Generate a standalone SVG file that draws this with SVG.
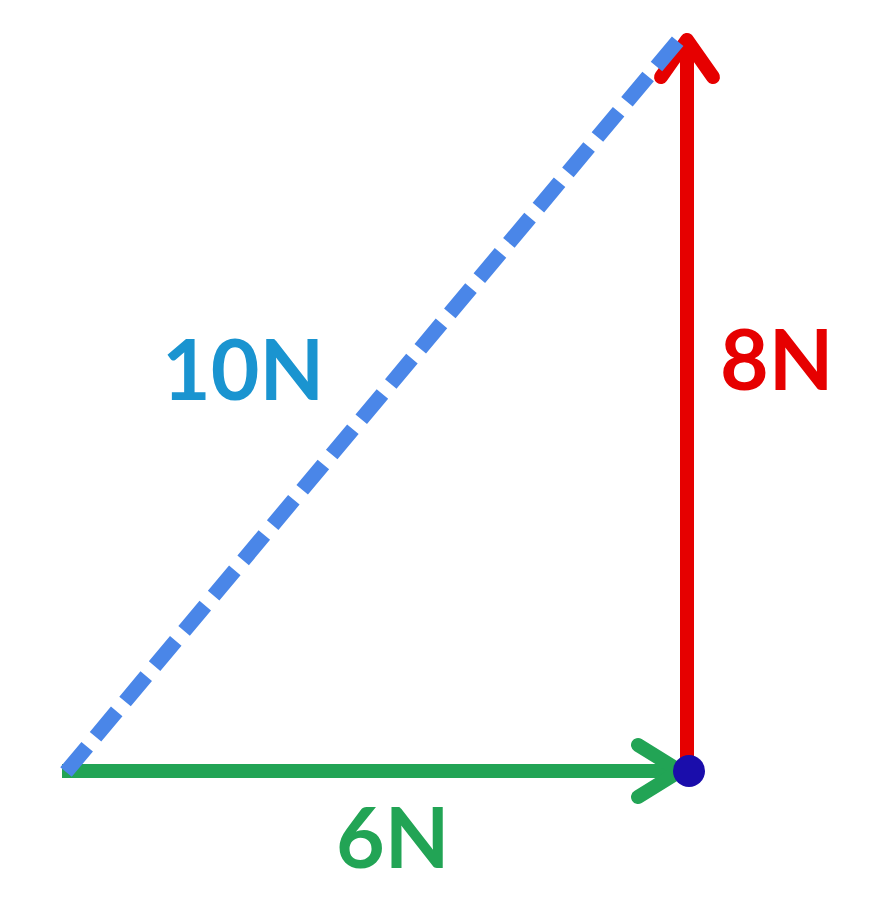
<svg xmlns="http://www.w3.org/2000/svg" width="885" height="905" viewBox="0 0 885 905">
<style>
.lbl{font-family:"Lato","Open Sans",sans-serif;font-size:84px;font-weight:bold}
.v{fill:none;stroke-width:14;stroke-linecap:round;stroke-linejoin:round}
</style>
<rect width="885" height="905" fill="#fff"/>
<g id="connectors">
<line x1="62" y1="771" x2="686" y2="771" stroke="#22a455" stroke-width="14" class="v" style="stroke-linecap:butt"/>
<polyline points="638,745 680,771 638,797" stroke="#22a455" class="v"/>
<line x1="687" y1="771" x2="687" y2="42" stroke="#e60000" class="v"/>
<polyline points="661,77 687,40 713,77" stroke="#e60000" class="v"/>
<line x1="66" y1="772" x2="682" y2="36" stroke="#4a86e8" stroke-width="15" stroke-dasharray="33,13"/>
</g>
<g id="dot"><circle cx="689" cy="771" r="16" fill="#1a0dab"/></g>
<g id="l10"><text x="162" y="400" class="lbl" fill="#1a94d0">10N</text></g>
<g id="l8"><text x="720" y="390" class="lbl" fill="#e60000">8N</text></g>
<g id="l6"><text x="336" y="868" class="lbl" fill="#22a455">6N</text></g>
</svg>
